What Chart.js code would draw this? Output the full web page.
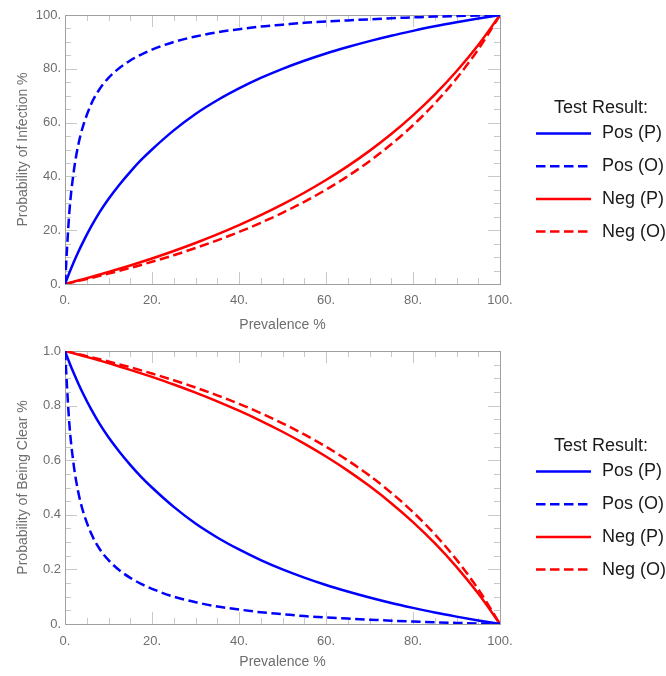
<!DOCTYPE html>
<html>
<head>
<meta charset="utf-8">
<title>Infection probability vs prevalence</title>
<script src="https://cdn.jsdelivr.net/npm/chart.js@4.4.1/dist/chart.umd.min.js"></script>
<style>
  html, body { margin: 0; padding: 0; background: #fff; }
  canvas { display: block; }
</style>
</head>
<body>
<canvas id="infectionChart" width="666" height="338"></canvas>
<canvas id="clearChart" width="666" height="338"></canvas>
<script>
// Data
const prevalence = [0, 1, 2, 3, 4, 6, 8, 10, 12.5, 15, 17.5, 20, 25, 30, 35, 40, 45, 50, 55, 60, 65, 70, 75, 80, 85, 90, 95, 100];

// Probability of infection (%)
const infPosP = [0, 4.16, 8.07, 11.7, 15.1, 21.3, 26.8, 31.6, 36.9, 41.7, 46.1, 50.0, 57.1, 63.2, 68.3, 72.7, 76.6, 80.0, 83.0, 85.7, 88.1, 90.3, 92.3, 94.1, 95.8, 97.3, 98.7, 100];
const infPosO = [0, 26.7, 41.7, 51.3, 57.9, 66.8, 72.6, 76.6, 80.3, 83.1, 85.3, 87.1, 90.0, 92.0, 93.6, 94.7, 95.7, 96.4, 97.1, 97.6, 98.0, 98.4, 98.8, 99.1, 99.4, 99.6, 99.8, 100];
const infNegP = [0, 0.42, 0.85, 1.28, 1.72, 2.61, 3.52, 4.46, 5.66, 6.90, 8.18, 9.50, 12.28, 15.25, 18.44, 21.88, 25.58, 29.58, 33.92, 38.65, 43.82, 49.49, 55.75, 62.69, 70.41, 79.08, 88.86, 100];
const infNegO = [0, 0.36, 0.73, 1.10, 1.48, 2.25, 3.04, 3.85, 4.89, 5.97, 7.09, 8.26, 10.71, 13.37, 16.24, 19.35, 22.75, 26.47, 30.56, 35.06, 40.07, 45.65, 51.92, 59.02, 67.11, 76.42, 87.24, 100];

// Probability of being clear (0..1)
const clearPosP = [1, 0.958, 0.919, 0.883, 0.849, 0.787, 0.732, 0.684, 0.631, 0.583, 0.539, 0.500, 0.429, 0.368, 0.317, 0.273, 0.234, 0.200, 0.170, 0.143, 0.119, 0.097, 0.077, 0.059, 0.042, 0.027, 0.013, 0];
const clearPosO = [1, 0.733, 0.583, 0.487, 0.421, 0.332, 0.274, 0.234, 0.197, 0.169, 0.147, 0.129, 0.100, 0.080, 0.064, 0.053, 0.043, 0.036, 0.029, 0.024, 0.020, 0.016, 0.012, 0.009, 0.006, 0.004, 0.002, 0];
const clearNegP = [1, 0.9958, 0.9915, 0.9872, 0.9828, 0.9739, 0.9648, 0.9554, 0.9434, 0.9310, 0.9182, 0.9050, 0.8772, 0.8475, 0.8156, 0.7812, 0.7442, 0.7042, 0.6608, 0.6135, 0.5618, 0.5051, 0.4425, 0.3731, 0.2959, 0.2092, 0.1114, 0];
const clearNegO = [1, 0.9964, 0.9927, 0.9890, 0.9852, 0.9775, 0.9696, 0.9615, 0.9511, 0.9403, 0.9291, 0.9174, 0.8929, 0.8663, 0.8376, 0.8065, 0.7725, 0.7353, 0.6944, 0.6494, 0.5993, 0.5435, 0.4808, 0.4098, 0.3289, 0.2358, 0.1276, 0];

const seriesLabels = ['Pos (P)', 'Pos (O)', 'Neg (P)', 'Neg (O)'];
const legendTitle = 'Test Result:';

const xTickLabels = ['0.', '20.', '40.', '60.', '80.', '100.'];
const yInfTickLabels = ['0.', '20.', '40.', '60.', '80.', '100.'];
const yClearTickLabels = ['0.', '0.2', '0.4', '0.6', '0.8', '1.0'];

const BLUE = '#0000ff';
const RED = '#ff0000';
const DASH = [9.5, 4.5];
const FONT = "'Liberation Sans', Arial, sans-serif";
const GRAY_TEXT = '#6e6e6e';

/**
 * Draw the frame with inward major/minor ticks on all four sides
 */
const frameTicksPlugin = {
    id: 'frameTicks',
    beforeDatasetsDraw(chart, args, opts) {
        const { ctx, chartArea: a } = chart;
        const xs = chart.scales.x;
        const ys = chart.scales.y;
        const isMajor = (v, step) => Math.abs(v / step - Math.round(v / step)) < 1e-6;
        const seg = (x1, y1, x2, y2) => {
            ctx.beginPath();
            ctx.moveTo(x1, y1);
            ctx.lineTo(x2, y2);
            ctx.stroke();
        };

        ctx.save();
        ctx.lineWidth = 1;
        ctx.strokeStyle = opts.tickColor;

        const nx = Math.round((xs.max - xs.min) / opts.xMinor);
        for (let i = 0; i <= nx; i++) {
            const v = xs.min + i * opts.xMinor;
            const px = Math.round(xs.getPixelForValue(v)) + 0.5;
            const len = isMajor(v, opts.xMajor) ? opts.majorLen : opts.minorLen;
            seg(px, a.bottom, px, a.bottom - len);
            seg(px, a.top, px, a.top + len);
        }

        const ny = Math.round((ys.max - ys.min) / opts.yMinor);
        for (let i = 0; i <= ny; i++) {
            const v = ys.min + i * opts.yMinor;
            const py = Math.round(ys.getPixelForValue(v)) + 0.5;
            const len = isMajor(v, opts.yMajor) ? opts.majorLen : opts.minorLen;
            seg(a.left, py, a.left + len, py);
            seg(a.right, py, a.right - len, py);
        }

        ctx.strokeStyle = opts.frameColor;
        ctx.strokeRect(Math.round(a.left) + 0.5, Math.round(a.top) + 0.5,
            Math.round(a.right - a.left), Math.round(a.bottom - a.top));
        ctx.restore();
    }
};

/**
 * Legend on the right side, drawn from the datasets
 */
const sideLegendPlugin = {
    id: 'sideLegend',
    afterDraw(chart, args, opts) {
        const ctx = chart.ctx;
        ctx.save();
        ctx.font = opts.font;
        ctx.fillStyle = opts.color;
        ctx.textBaseline = 'middle';
        ctx.textAlign = 'center';
        ctx.fillText(opts.title, opts.titleX, opts.titleY);
        ctx.textAlign = 'left';
        chart.data.datasets.forEach((ds, i) => {
            const y = opts.firstY + i * opts.step;
            ctx.strokeStyle = ds.borderColor;
            ctx.lineWidth = ds.borderWidth;
            ctx.setLineDash(ds.borderDash || []);
            ctx.beginPath();
            ctx.moveTo(opts.lineX, y);
            ctx.lineTo(opts.lineX + opts.lineLen, y);
            ctx.stroke();
            ctx.setLineDash([]);
            ctx.fillText(ds.label, opts.textX, y);
        });
        ctx.restore();
    }
};

function toPoints(values) {
    return prevalence.map((p, i) => ({ x: p, y: values[i] }));
}

function makeDataset(label, values, color, dashed) {
    return {
        label: label,
        data: toPoints(values),
        borderColor: color,
        backgroundColor: color,
        borderWidth: 2.5,
        borderDash: dashed ? DASH : [],
        pointRadius: 0,
        cubicInterpolationMode: 'monotone',
        fill: false
    };
}

function createPanel(canvasId, series, yCfg) {
    const ctx = document.getElementById(canvasId);
    return new Chart(ctx, {
        type: 'line',
        data: {
            datasets: [
                makeDataset(seriesLabels[0], series[0], BLUE, false),
                makeDataset(seriesLabels[1], series[1], BLUE, true),
                makeDataset(seriesLabels[2], series[2], RED, false),
                makeDataset(seriesLabels[3], series[3], RED, true)
            ]
        },
        options: {
            responsive: false,
            animation: false,
            layout: {
                padding: { top: yCfg.padTop, right: 166, left: 0, bottom: 0 }
            },
            plugins: {
                legend: { display: false },
                tooltip: { enabled: false },
                frameTicks: {
                    tickColor: '#c8c8c8',
                    frameColor: '#a0a0a0',
                    xMinor: 5,
                    xMajor: 20,
                    yMinor: yCfg.minor,
                    yMajor: yCfg.step,
                    majorLen: 12,
                    minorLen: 6
                },
                sideLegend: {
                    title: legendTitle,
                    font: '18px ' + FONT,
                    color: '#1a1a1a',
                    titleX: 601,
                    titleY: 108.5,
                    firstY: 133.5,
                    step: 32.7,
                    lineX: 536,
                    lineLen: 55,
                    textX: 602
                }
            },
            scales: {
                x: {
                    type: 'linear',
                    min: 0,
                    max: 100,
                    afterFit: (scale) => { scale.height = yCfg.xAxisHeight; },
                    grid: { display: false, drawTicks: false },
                    border: { display: false },
                    ticks: {
                        stepSize: 20,
                        padding: yCfg.xLabelPad,
                        maxRotation: 0,
                        color: GRAY_TEXT,
                        font: { size: 13, family: FONT },
                        callback: (value, index) => xTickLabels[index]
                    },
                    title: {
                        display: true,
                        text: 'Prevalence %',
                        color: GRAY_TEXT,
                        font: { size: 14, family: FONT },
                        padding: { top: 4, bottom: yCfg.titlePadBottom }
                    }
                },
                y: {
                    type: 'linear',
                    min: yCfg.min,
                    max: yCfg.max,
                    afterFit: (scale) => { scale.width = 65; },
                    grid: { display: false, drawTicks: false },
                    border: { display: false },
                    ticks: {
                        stepSize: yCfg.step,
                        padding: 4,
                        color: GRAY_TEXT,
                        font: { size: 13, family: FONT },
                        callback: (value, index) => yCfg.labels[index]
                    },
                    title: {
                        display: true,
                        text: yCfg.title,
                        color: GRAY_TEXT,
                        font: { size: 14, family: FONT },
                        padding: { top: 15, bottom: 0 }
                    }
                }
            }
        },
        plugins: [frameTicksPlugin, sideLegendPlugin]
    });
}

createPanel('infectionChart', [infPosP, infPosO, infNegP, infNegO], {
    min: 0, max: 100, step: 20, minor: 5,
    labels: yInfTickLabels,
    title: 'Probability of Infection %',
    padTop: 15, xAxisHeight: 54, titlePadBottom: 4.6, xLabelPad: 9
});

createPanel('clearChart', [clearPosP, clearPosO, clearNegP, clearNegO], {
    min: 0, max: 1, step: 0.2, minor: 0.05,
    labels: yClearTickLabels,
    title: 'Probability of Being Clear %',
    padTop: 13, xAxisHeight: 52, titlePadBottom: 5.6, xLabelPad: 10
});
</script>
</body>
</html>
